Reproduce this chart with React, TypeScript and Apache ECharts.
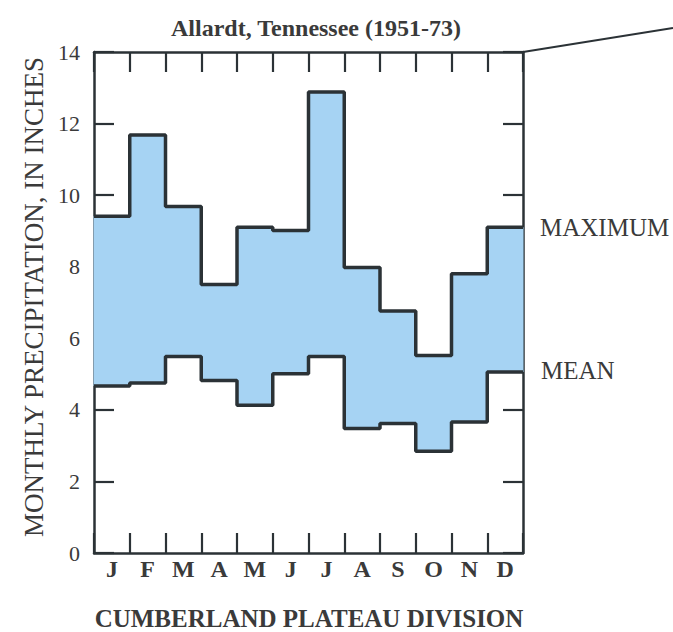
import React, { useEffect, useRef } from "react";
import * as echarts from "echarts";

const months = ["J", "F", "M", "A", "M", "J", "J", "A", "S", "O", "N", "D"];
const maximum = [9.41, 11.68, 9.68, 7.5, 9.1, 9.01, 12.88, 7.98, 6.76, 5.52, 7.8, 9.1];
const mean = [4.67, 4.75, 5.49, 4.82, 4.13, 5.01, 5.49, 3.48, 3.62, 2.84, 3.66, 5.06];
const yTicks = [0, 2, 4, 6, 8, 10, 12, 14];

const FONT = "'Liberation Serif', 'DejaVu Serif', serif";
const INK = "#2b3236";
const TEXT = "#3a3a3a";
const FILL = "#a6d3f3";

function stepPoints(vals: number[]): number[][] {
  const pts = vals.map((v, i) => [i, v]);
  pts.push([vals.length, vals[vals.length - 1]]);
  return pts;
}

export default function App() {
  const ref = useRef<HTMLDivElement>(null);
  useEffect(() => {
    if (!ref.current) return;
    const chart = echarts.init(ref.current, null, { renderer: "svg" });
    const axisLine = { show: true, onZero: false, lineStyle: { color: INK, width: 2.5 } };
    const tick = { show: true, inside: true, length: 20, lineStyle: { color: INK, width: 2.2 } };
    chart.setOption({
      animation: false,
      backgroundColor: "#ffffff",
      grid: { left: 94, right: 150, top: 52, bottom: 79, containLabel: false },
      xAxis: [
        {
          type: "value", min: 0, max: 12, interval: 1, position: "bottom",
          axisLine, axisTick: tick, axisLabel: { show: false }, splitLine: { show: false },
        },
        {
          type: "value", min: 0, max: 12, interval: 1, position: "top",
          axisLine, axisTick: tick, axisLabel: { show: false }, splitLine: { show: false },
        },
        {
          type: "category", data: months, position: "bottom", boundaryGap: true,
          axisLine: { show: false, onZero: false }, axisTick: { show: false }, splitLine: { show: false },
          axisLabel: { margin: 4, fontFamily: FONT, fontSize: 24, fontWeight: "bold", color: TEXT },
        },
      ],
      yAxis: [
        {
          type: "value", min: 0, max: 14, interval: 2, position: "left",
          axisLine, axisTick: tick, splitLine: { show: false },
          axisLabel: {
            margin: 14, fontFamily: FONT, fontSize: 22, color: TEXT,
            formatter: (v: number) => (yTicks.includes(v) ? String(v) : ""),
          },
        },
        {
          type: "value", min: 0, max: 14, interval: 2, position: "right",
          axisLine, axisTick: tick, axisLabel: { show: false }, splitLine: { show: false },
        },
      ],
      series: [
        {
          type: "custom",
          xAxisIndex: 0,
          yAxisIndex: 0,
          data: months.map((_, i) => [i, mean[i], maximum[i]]),
          renderItem: (params: any, api: any) => {
            const i = api.value(0);
            const p1 = api.coord([i, api.value(2)]);
            const p2 = api.coord([i + 1, api.value(1)]);
            return {
              type: "rect",
              shape: { x: p1[0] - 0.5, y: p1[1], width: p2[0] - p1[0] + 1, height: p2[1] - p1[1] },
              style: { fill: FILL },
            };
          },
          z: 1,
        },
        {
          type: "line", name: "Maximum", xAxisIndex: 0, yAxisIndex: 0,
          data: stepPoints(maximum), step: "end", symbol: "none",
          lineStyle: { color: INK, width: 3.5 }, z: 3,
        },
        {
          type: "line", name: "Mean", xAxisIndex: 0, yAxisIndex: 0,
          data: stepPoints(mean), step: "end", symbol: "none",
          lineStyle: { color: INK, width: 3.5 }, z: 3,
        },
      ],
      graphic: [
        {
          type: "text", x: 316, y: 28,
          style: { text: "Allardt, Tennessee (1951-73)", font: `bold 24px ${FONT}`, fill: TEXT, align: "center", verticalAlign: "middle" },
        },
        {
          type: "text", x: 34, y: 297, rotation: Math.PI / 2,
          style: { text: "MONTHLY PRECIPITATION, IN INCHES", font: `27px ${FONT}`, fill: TEXT, align: "center", verticalAlign: "middle" },
        },
        {
          type: "text", x: 309, y: 618,
          style: { text: "CUMBERLAND PLATEAU DIVISION", font: `bold 25px ${FONT}`, fill: TEXT, align: "center", verticalAlign: "middle" },
        },
        {
          type: "text", x: 540, y: 227,
          style: { text: "MAXIMUM", font: `25px ${FONT}`, fill: TEXT, align: "left", verticalAlign: "middle" },
        },
        {
          type: "text", x: 541, y: 370,
          style: { text: "MEAN", font: `25px ${FONT}`, fill: TEXT, align: "left", verticalAlign: "middle" },
        },
        {
          type: "line",
          shape: { x1: 523, y1: 52, x2: 673, y2: 28 },
          style: { stroke: INK, lineWidth: 2 },
        },
      ],
    });
    return () => chart.dispose();
  }, []);
  return (
    <div
      ref={ref}
      style={{ position: "fixed", left: 0, top: 0, width: 673, height: 632, background: "#fff" }}
    />
  );
}
